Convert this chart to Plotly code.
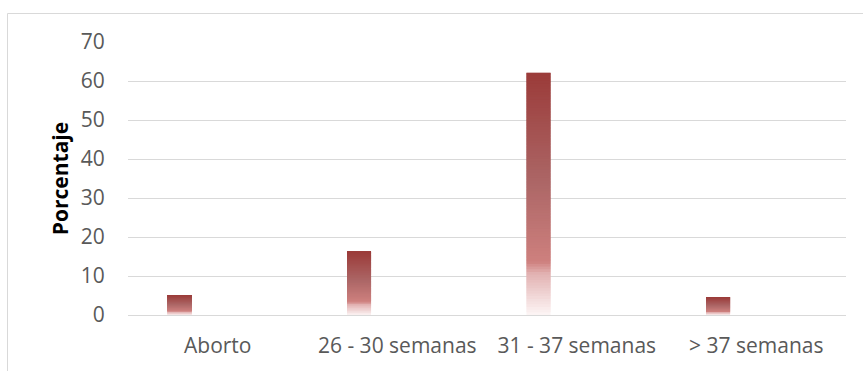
import plotly.graph_objects as go

categories = ["Aborto", "26 - 30 semanas", "31 - 37 semanas", "> 37 semanas"]
values = [5.1, 16.2, 62.1, 4.6]
y_ticks = [0, 10, 20, 30, 40, 50, 60, 70]

# gradient stops (fraction from top of bar -> rgb)
stops = [(0.0, (155, 59, 57)), (0.45, (172, 102, 102)), (0.78, (206, 128, 126)),
         (0.83, (226, 178, 178)), (1.0, (253, 246, 246))]

def color_at(f):
    for (f0, c0), (f1, c1) in zip(stops[:-1], stops[1:]):
        if f0 <= f <= f1:
            t = (f - f0) / (f1 - f0) if f1 > f0 else 0
            return "rgb(%d,%d,%d)" % tuple(round(a + (b - a) * t) for a, b in zip(c0, c1))
    return "rgb(%d,%d,%d)" % stops[-1][1]

N = 90
xs, ys, bases, cols = [], [], [], []
for cat, v in zip(categories, values):
    seg = v / N
    for k in range(N):
        xs.append(cat)
        # overlap each segment with the next one to avoid anti-aliasing seams
        ys.append(seg * (2 if k < N - 1 else 1))
        bases.append(seg * k)
        frac_top = 1 - (k + 0.5) / N
        cols.append(color_at(frac_top))

fig = go.Figure()
fig.add_trace(go.Bar(
    x=xs, y=ys, base=bases,
    marker=dict(color=cols, line=dict(width=0)),
    width=0.134, offset=-0.280,
    hoverinfo="skip", showlegend=False,
))

font_family = "Open Sans, sans-serif"
fig.update_layout(
    width=863, height=371,
    margin=dict(l=128, r=17, t=42, b=56),
    paper_bgcolor="white", plot_bgcolor="white",
    barmode="overlay",
    font=dict(family=font_family, size=21, color="#595959"),
    xaxis=dict(
        type="category", categoryorder="array", categoryarray=categories,
        showgrid=False, showline=False, zeroline=False,
        ticks="outside", ticklen=12, tickcolor="rgba(0,0,0,0)",
        tickfont=dict(size=21, color="#595959"),
    ),
    yaxis=dict(
        range=[0, 70], tickvals=y_ticks,
        showgrid=True, gridcolor="#D9D9D9", gridwidth=1,
        zeroline=True, zerolinecolor="#D9D9D9", zerolinewidth=1,
        showline=False,
        ticks="outside", ticklen=18, tickcolor="rgba(0,0,0,0)",
        tickfont=dict(size=21, color="#595959"),
        title=dict(text="<b>Porcentaje</b>", font=dict(size=21, color="#000000"), standoff=6),
    ),
)

# outer chart border (top and left visible)
bx = (7.5 - 128) / 718
by = (315 - 13.5) / 273
fig.add_shape(type="line", xref="paper", yref="paper", x0=bx, x1=1.2, y0=by, y1=by,
              line=dict(color="#D9D9D9", width=1))
fig.add_shape(type="line", xref="paper", yref="paper", x0=bx, x1=bx, y0=by, y1=-0.4,
              line=dict(color="#D9D9D9", width=1))

fig.write_html("out.html")
